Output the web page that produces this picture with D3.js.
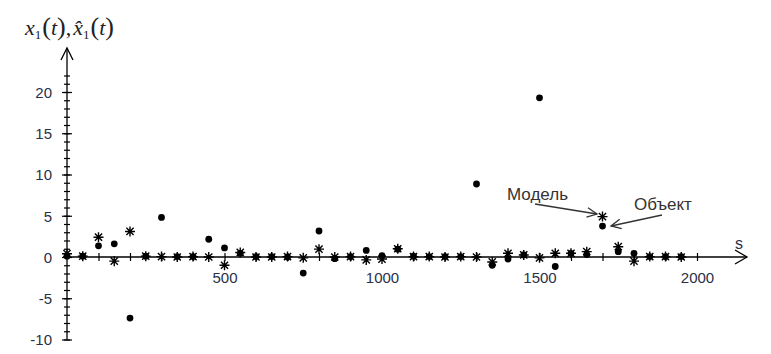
<!DOCTYPE html>
<html><head><meta charset="utf-8">
<script src="https://cdn.jsdelivr.net/npm/d3@7"></script>
<style>body{margin:0;background:#fff}svg{display:block}</style>
</head><body>
<svg id="c" width="771" height="354"></svg>
<script>
const sValues = [0,50,100,150,200,250,300,350,400,450,500,550,600,650,700,750,800,850,900,950,1000,1050,1100,1150,1200,1250,1300,1350,1400,1450,1500,1550,1600,1650,1700,1750,1800,1850,1900,1950];
const modelValues = [0.4,0.1,2.4,-0.5,3.1,0.1,0.05,0,0.05,0,-1.0,0.55,0,0,0.05,-0.1,0.95,0,0.05,-0.35,-0.25,1.0,0.05,0.05,0,0.05,0,-0.6,0.45,0.25,-0.1,0.45,0.45,0.65,4.9,1.25,-0.5,0.05,0.05,0];
const objectValues = [0.1,0.1,1.35,1.6,-7.4,0.1,4.8,0.05,0.05,2.15,1.1,0.45,0.05,0.05,0,-1.95,3.15,-0.2,0.05,0.8,0.15,0.95,0.1,0.05,0.05,0.05,8.85,-1.0,-0.25,0.25,19.3,-1.15,0.45,0.3,3.75,0.65,0.45,0.05,0.05,0.05];
const yMajorTicks = [-10,-5,0,5,10,15,20];
const yMinorTicks = d3.range(-10,23,1);
const xTicks = d3.range(100,2001,100);
const xTickLabels = [500,1000,1500,2000];
const labelModel = "Модель", labelObject = "Объект", labelS = "s";

const svg = d3.select("#c");
const x = d3.scaleLinear().domain([0,2000]).range([67,697]);
const y = d3.scaleLinear().domain([-10,20]).range([339.5,92]);
const X0 = x(0), Y0 = y(0);
const labelColor = "#2a3048";

// y axis minor ticks
const gMinor = svg.append("g").attr("transform",`translate(${X0},0)`)
  .call(d3.axisLeft(y).tickValues(yMinorTicks).tickFormat("").tickSizeOuter(0));
gMinor.select(".domain").remove();
gMinor.selectAll(".tick line").attr("x1",-3).attr("x2",3).attr("stroke","#000").attr("stroke-width",1.2);
// y axis major
const gY = svg.append("g").attr("transform",`translate(${X0},0)`)
  .call(d3.axisLeft(y).tickValues(yMajorTicks).tickFormat(d => String(d)).tickSizeOuter(0));
gY.select(".domain").remove();
gY.selectAll(".tick line").attr("x1",-5).attr("x2",5).attr("stroke","#000").attr("stroke-width",1.2);
gY.selectAll(".tick text").attr("x",-15).attr("dy","0.36em")
  .attr("font-family","Liberation Sans, Arial, sans-serif").attr("font-size",15).attr("fill",labelColor);

// x axis
const gX = svg.append("g").attr("transform",`translate(0,${Y0})`)
  .call(d3.axisBottom(x).tickValues(xTicks).tickFormat(d => xTickLabels.includes(d) ? d : "").tickSizeOuter(0));
gX.select(".domain").remove();
gX.selectAll(".tick line").attr("y1",-4).attr("y2",4).attr("stroke","#000").attr("stroke-width",1.2);
gX.selectAll(".tick text").attr("y",26).attr("dy",0)
  .attr("font-family","Liberation Sans, Arial, sans-serif").attr("font-size",15).attr("fill",labelColor);

// axis lines with arrows
svg.append("line").attr("x1",X0).attr("x2",X0).attr("y1",y(-10)).attr("y2",48).attr("stroke","#000").attr("stroke-width",1.3);
svg.append("path").attr("d",`M${X0-6},${60} L${X0},48 L${X0+6},${60}`).attr("fill","none").attr("stroke","#000").attr("stroke-width",1.3);
svg.append("line").attr("x1",X0-3).attr("x2",747).attr("y1",Y0).attr("y2",Y0).attr("stroke","#000").attr("stroke-width",1.3);
svg.append("path").attr("d",`M735,${Y0-7} L747,${Y0} L735,${Y0+7}`).attr("fill","none").attr("stroke","#000").attr("stroke-width",1.3);
svg.append("text").attr("x",735).attr("y",249).text(labelS)
  .attr("font-family","Liberation Sans, Arial, sans-serif").attr("font-size",16).attr("fill",labelColor);

// title
const t = svg.append("text").attr("x",25).attr("y",35).attr("font-family","Liberation Serif, Times New Roman, serif").attr("font-size",22).attr("fill","#222");
t.append("tspan").attr("font-style","italic").text("x");
t.append("tspan").attr("font-size",13).attr("dy",4).text("1");
t.append("tspan").attr("dy",-4).attr("dx",1).attr("font-size",26).text("(");
t.append("tspan").attr("font-style","italic").text("t");
t.append("tspan").attr("font-size",26).text(")");
t.append("tspan").text(",");
t.append("tspan").attr("font-style","italic").attr("dx",2).text("x\u0302");
t.append("tspan").attr("font-size",13).attr("dy",4).text("1");
t.append("tspan").attr("dy",-4).attr("dx",1).attr("font-size",26).text("(");
t.append("tspan").attr("font-style","italic").text("t");
t.append("tspan").attr("font-size",26).text(")");

// points
const data = sValues.map((s,i)=>({s, m:modelValues[i], o:objectValues[i]}));
svg.append("g").selectAll("circle").data(data).join("circle")
  .attr("cx",d=>x(d.s)).attr("cy",d=>y(d.o)).attr("r",3.4).attr("fill","#000");
const star = "M-5,0H5M0,-5V5M-3.6,-3.6L3.6,3.6M-3.6,3.6L3.6,-3.6";
svg.append("g").selectAll("path").data(data).join("path")
  .attr("transform",d=>`translate(${x(d.s)},${y(d.m)})`).attr("d",star)
  .attr("fill","none").attr("stroke","#000").attr("stroke-width",1.4);

// annotations
const ann = svg.append("g").attr("font-family","Liberation Sans, Arial, sans-serif").attr("font-size",17).attr("fill","#333");
ann.append("text").attr("x",507).attr("y",200).text(labelModel);
ann.append("text").attr("x",634).attr("y",210).text(labelObject);
function arrow(x1,y1,x2,y2){
  svg.append("line").attr("x1",x1).attr("y1",y1).attr("x2",x2).attr("y2",y2).attr("stroke","#333").attr("stroke-width",1.3);
  const a = Math.atan2(y2-y1,x2-x1), L=11, w=0.45;
  svg.append("path").attr("d",`M${x2-L*Math.cos(a-w)},${y2-L*Math.sin(a-w)} L${x2},${y2} L${x2-L*Math.cos(a+w)},${y2-L*Math.sin(a+w)}`)
    .attr("fill","none").attr("stroke","#333").attr("stroke-width",1.3);
}
arrow(535,204,597,214);
arrow(662,215,611,226);
</script>
</body></html>
